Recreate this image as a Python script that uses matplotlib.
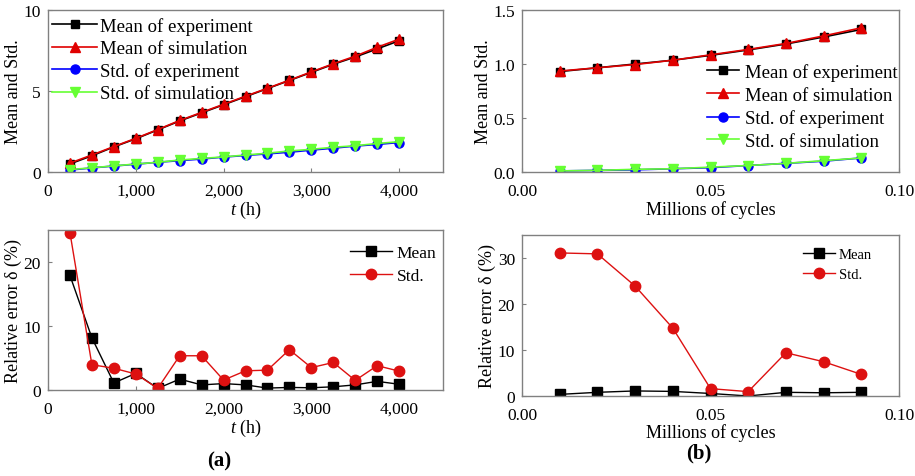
import matplotlib.pyplot as plt
import matplotlib.ticker as mticker

plt.rcParams['font.family'] = ['Liberation Serif', 'DejaVu Serif']
plt.rcParams['mathtext.fontset'] = 'custom'
plt.rcParams['mathtext.it'] = 'Liberation Serif:italic'
plt.rcParams['mathtext.rm'] = 'Liberation Serif'

# (a) time in hours
t_hours = [250, 500, 750, 1000, 1250, 1500, 1750, 2000,
           2250, 2500, 2750, 3000, 3250, 3500, 3750, 4000]
mean_exp_a = [0.50, 1.00, 1.55, 2.05, 2.60, 3.15, 3.65, 4.15,
              4.65, 5.15, 5.65, 6.15, 6.65, 7.10, 7.60, 8.10]
mean_sim_a = [0.55, 1.05, 1.57, 2.08, 2.62, 3.18, 3.68, 4.18,
              4.68, 5.17, 5.67, 6.18, 6.68, 7.15, 7.70, 8.20]
std_exp_a = [0.12, 0.25, 0.37, 0.48, 0.60, 0.70, 0.80, 0.92,
             1.02, 1.12, 1.22, 1.35, 1.47, 1.60, 1.70, 1.82]
std_sim_a = [0.15, 0.26, 0.38, 0.49, 0.60, 0.74, 0.84, 0.93,
             1.05, 1.16, 1.30, 1.40, 1.53, 1.62, 1.76, 1.87]
err_mean_a = [17.9, 8.15, 1.1, 2.6, 0.25, 1.7, 0.8, 1.0,
              0.8, 0.3, 0.4, 0.35, 0.5, 0.8, 1.35, 0.9]
err_std_a = [24.6, 3.95, 3.4, 2.5, 0.25, 5.35, 5.35, 1.55,
             3.0, 3.1, 6.3, 3.5, 4.3, 1.5, 3.8, 2.95]

# (b) millions of cycles
cycles = [0.01, 0.02, 0.03, 0.04, 0.05, 0.06, 0.07, 0.08, 0.09]
mean_exp_b = [0.930, 0.965, 1.000, 1.035, 1.080, 1.130, 1.185, 1.250, 1.320]
mean_sim_b = [0.935, 0.965, 0.995, 1.035, 1.085, 1.135, 1.190, 1.260, 1.335]
std_exp_b = [0.010, 0.015, 0.020, 0.030, 0.040, 0.060, 0.080, 0.100, 0.130]
std_sim_b = [0.010, 0.015, 0.025, 0.030, 0.045, 0.060, 0.080, 0.105, 0.130]
err_mean_b = [0.35, 0.8, 1.1, 1.0, 0.55, 0.0, 0.8, 0.7, 0.8]
err_std_b = [31.1, 30.9, 23.9, 14.75, 1.6, 0.95, 9.4, 7.45, 4.7]

W, H = 915, 477
fig = plt.figure(figsize=(W / 100, H / 100), dpi=100)


def make_axes(x0, y0, x1, y1):
    # axes box given in pixels from the top-left corner
    ax = fig.add_axes([x0 / W, 1 - y1 / H, (x1 - x0) / W, (y1 - y0) / H])
    for s in ax.spines.values():
        s.set_color('#808080')
        s.set_linewidth(1.0)
    ax.tick_params(direction='in', length=3, color='#808080',
                   labelsize=12.5)
    ax.tick_params(axis='x', pad=8)
    ax.tick_params(axis='y', pad=5)
    return ax


def add_legend(ax, x, y, size, **kw):
    # upper-left corner of the legend in figure pixels
    return ax.legend(loc='upper left', bbox_to_anchor=(x / W, 1 - y / H),
                     bbox_transform=fig.transFigure, fontsize=size,
                     frameon=False, borderpad=0, borderaxespad=0, **kw)


def plot_four(ax, x, me, ms, se, ss):
    ax.plot(x, me, '-s', color='black', ms=6, lw=1.2, label='Mean of experiment')
    ax.plot(x, ms, '-^', color='#e00000', ms=7.5, lw=1.2, label='Mean of simulation')
    ax.plot(x, se, '-o', color='#0000ff', ms=6.5, lw=1.2, label='Std. of experiment')
    ax.plot(x, ss, '-v', color='#66ff33', ms=7.5, lw=1.2, label='Std. of simulation')


comma = mticker.FuncFormatter(lambda v, p: f'{int(v):,}')

# top left
ax1 = make_axes(48, 11, 443, 173)
plot_four(ax1, t_hours, mean_exp_a, mean_sim_a, std_exp_a, std_sim_a)
ax1.set_xlim(0, 4500)
ax1.set_ylim(0, 10)
ax1.set_xticks([0, 1000, 2000, 3000, 4000])
ax1.set_yticks([0, 5, 10])
ax1.xaxis.set_major_formatter(comma)
ax1.set_xlabel('$t$ (h)', fontsize=13, labelpad=0)
ax1.set_ylabel('Mean and Std.', fontsize=13, labelpad=1)
add_legend(ax1, 52, 18, 13.5, handlelength=2.4, handletextpad=0.15,
           labelspacing=0.27)

# bottom left
ax2 = make_axes(48, 231, 443, 391)
ax2.plot(t_hours, err_mean_a, '-s', color='black', ms=7, lw=1.0, label='Mean')
ax2.plot(t_hours, err_std_a, '-o', color='#dd1111', ms=7.5, lw=1.0, label='Std.')
ax2.set_xlim(0, 4500)
ax2.set_ylim(0, 25)
ax2.set_xticks([0, 1000, 2000, 3000, 4000])
ax2.set_yticks([0, 10, 20])
ax2.xaxis.set_major_formatter(comma)
ax2.set_xlabel('$t$ (h)', fontsize=13, labelpad=0)
ax2.set_ylabel('Relative error δ (%)', fontsize=13, labelpad=1)
add_legend(ax2, 350, 246, 12.5, handlelength=2.4, handletextpad=0.3,
           labelspacing=0.4)

# top right
ax3 = make_axes(522, 11, 899, 173)
plot_four(ax3, cycles, mean_exp_b, mean_sim_b, std_exp_b, std_sim_b)
ax3.set_xlim(0, 0.1)
ax3.set_ylim(0, 1.5)
ax3.set_xticks([0, 0.05, 0.1])
ax3.set_yticks([0, 0.5, 1.0, 1.5])
ax3.xaxis.set_major_formatter(mticker.FormatStrFormatter('%.2f'))
ax3.yaxis.set_major_formatter(mticker.FormatStrFormatter('%.1f'))
ax3.set_xlabel('Millions of cycles', fontsize=13, labelpad=1)
ax3.set_ylabel('Mean and Std.', fontsize=13, labelpad=1)
add_legend(ax3, 707, 64, 13.5, handlelength=1.7, handletextpad=0.35,
           labelspacing=0.3)

# bottom right
ax4 = make_axes(522, 236, 899, 397)
ax4.plot(cycles, err_mean_b, '-s', color='black', ms=7, lw=1.0, label='Mean')
ax4.plot(cycles, err_std_b, '-o', color='#dd1111', ms=7.5, lw=1.0, label='Std.')
ax4.set_xlim(0, 0.1)
ax4.set_ylim(0, 35)
ax4.set_xticks([0, 0.05, 0.1])
ax4.set_yticks([0, 10, 20, 30])
ax4.xaxis.set_major_formatter(mticker.FormatStrFormatter('%.2f'))
ax4.set_xlabel('Millions of cycles', fontsize=13, labelpad=0)
ax4.set_ylabel('Relative error δ (%)', fontsize=13, labelpad=1)
add_legend(ax4, 803, 249, 10.5, handlelength=2.2, handletextpad=0.25,
           labelspacing=0.45)

fig.text(219 / W, 1 - 461 / H, '(a)', fontsize=15, fontweight='bold',
         ha='center', va='center')
fig.text(699 / W, 1 - 453 / H, '(b)', fontsize=15, fontweight='bold',
         ha='center', va='center')

fig.savefig('out.png', dpi=100)
